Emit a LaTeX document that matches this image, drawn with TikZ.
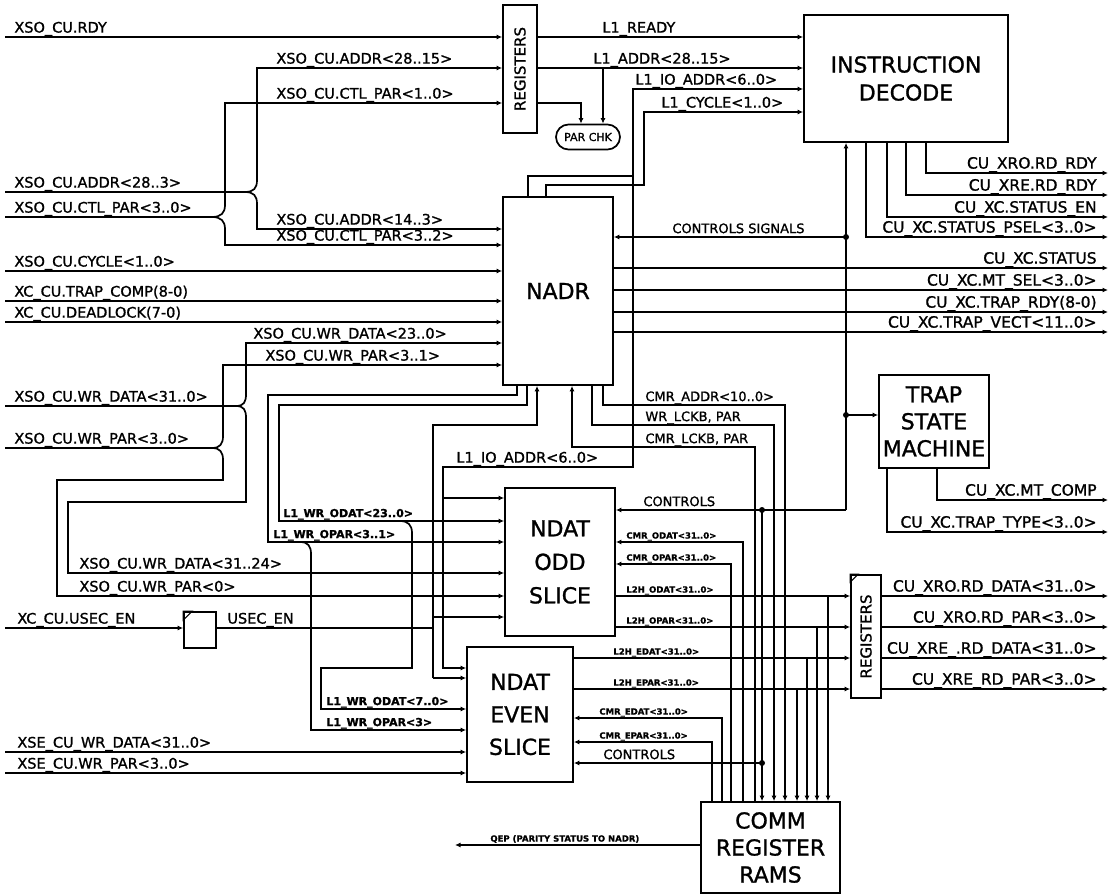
\documentclass[tikz,border=0pt]{standalone}
\usepackage{fontspec}
\setmainfont{DejaVu Sans}[FakeBold=1.2]
\usetikzlibrary{arrows.meta}

\begin{document}
\begin{tikzpicture}[
    x=1pt, y=-1pt,
    box/.style={draw, line width=1.7pt, inner sep=0pt},
    blocktext/.style={font=\fontsize{22}{#1}\selectfont, align=center},
    sig/.style={line width=1.7pt},
    arr/.style={sig, -{Latex[length=5.5pt,width=5pt]}},
    lbl/.style={anchor=south west, inner sep=1.2pt, text depth=3pt, font=\fontsize{14.5}{15}\selectfont},
    rlbl/.style={anchor=south east, inner sep=1.2pt, text depth=3pt, font=\fontsize{15.5}{16}\selectfont},
    mlbl/.style={anchor=south west, inner sep=1.2pt, text depth=2.5pt, font=\fontsize{13}{14}\selectfont},
    wlbl/.style={anchor=south west, inner sep=1.2pt, text depth=2.5pt, font=\fontsize{11}{12}\bfseries\selectfont},
    slbl/.style={anchor=south west, inner sep=1.2pt, text depth=2pt, font=\fontsize{8.5}{9}\bfseries\selectfont},
    jdot/.style={circle, fill, inner sep=0pt, minimum size=6pt},
]
    \fill[white] (0,0) rectangle (1120,896);

    % blocks
    \node[box, minimum width=34pt, minimum height=128pt,
          label={[rotate=90, font=\fontsize{15}{16}\selectfont]center:REGISTERS}] (regin) at (520,69) {};
    \node[box, minimum width=64pt, minimum height=25pt, rounded corners=12.5pt,
          font=\fontsize{11}{12}\selectfont] (parchk) at (588,137) {PAR CHK};
    \node[box, blocktext=28, minimum width=204pt, minimum height=127pt] (idec) at (906,78.5) {INSTRUCTION\\DECODE};
    \node[box, blocktext=28, minimum width=110pt, minimum height=188pt] (nadr) at (558,291) {NADR};
    \node[box, blocktext=27, minimum width=110pt, minimum height=93pt] (trap) at (934,421.5) {TRAP\\STATE\\MACHINE};
    \node[box, blocktext=33.5, minimum width=110pt, minimum height=148pt] (odd) at (560,562) {NDAT\\ODD\\SLICE};
    \node[box, blocktext=32.5, minimum width=106pt, minimum height=135pt] (even) at (520,714.5) {NDAT\\EVEN\\SLICE};
    \node[box, minimum width=30pt, minimum height=123pt,
          label={[rotate=90, font=\fontsize{15}{16}\selectfont]center:REGISTERS}] (regout) at (866,636.5) {};
    \node[box, blocktext=27, minimum width=139pt, minimum height=91pt] (comm) at (770.5,847.5) {COMM\\REGISTER\\RAMS};
    \node[box, minimum width=32pt, minimum height=36pt] (latch) at (200,630) {};
    \draw[line width=1pt] (latch.north west) -- ++(9,0) -- ++(-9,9) -- cycle;
    \draw[line width=1pt] (regout.north west) -- ++(8,0) -- ++(-8,8) -- cycle;

    % free ends on the left
    \coordinate (iRdy) at (5,37);
    \coordinate (iAddr) at (5,192);
    \coordinate (iCtl) at (5,217);
    \coordinate (iCyc) at (5,271);
    \coordinate (iTrap) at (5,301);
    \coordinate (iDead) at (5,322);
    \coordinate (iWrd) at (5,406);
    \coordinate (iWrp) at (5,448);
    \coordinate (iUsec) at (5,628);
    \coordinate (iXsed) at (5,752);
    \coordinate (iXsep) at (5,773);

    % inputs
    \draw[arr] (iRdy) -- (iRdy -| regin.west);
    \draw[arr] (iAddr) -- (245,192) .. controls (254,192) and (257,188) .. (257,180) -- (257,68) -- (257,68 -| regin.west);
    \draw[arr] (245,192) .. controls (254,192) and (257,196) .. (257,204) -- (257,229) -- (257,229 -| nadr.west);
    \draw[arr] (iCtl) -- (212,217) .. controls (221,217) and (225,213) .. (225,205) -- (225,103) -- (225,103 -| regin.west);
    \draw[arr] (212,217) .. controls (221,217) and (225,221) .. (225,229) -- (225,245) -- (225,245 -| nadr.west);
    \draw[arr] (iCyc) -- (iCyc -| nadr.west);
    \draw[arr] (iTrap) -- (iTrap -| nadr.west);
    \draw[arr] (iDead) -- (iDead -| nadr.west);
    \draw[arr] (iWrd) -- (236,406) .. controls (244,406) and (246,402) .. (246,394) -- (246,343) -- (246,343 -| nadr.west);
    \draw[arr] (236,406) .. controls (244,406) and (246,410) .. (246,418) -- (246,502) -- (68,502) -- (68,573) -- (68,573 -| odd.west);
    \draw[arr] (iWrp) -- (212,448) .. controls (220,448) and (223,444) .. (223,436) -- (223,365) -- (223,365 -| nadr.west);
    \draw[arr] (212,448) .. controls (220,448) and (223,452) .. (223,460) -- (223,480) -- (57,480) -- (57,596) -- (57,596 -| odd.west);
    \draw[arr] (iUsec) -- (iUsec -| latch.west);
    \draw[sig] (latch.east |- iUsec) -- (433,628);
    \draw[arr] (433,678) -- (433,425) -- (537,425) -- (537,425 |- nadr.south);
    \draw[arr] (433,617) -- (433,617 -| odd.west);
    \draw[arr] (433,678) -- (433,678 -| even.west);
    \draw[arr] (iXsed) -- (iXsed -| even.west);
    \draw[arr] (iXsep) -- (iXsep -| even.west);

    % top registers and decode
    \draw[arr] (regin.east |- iRdy) -- (iRdy -| idec.west);
    \draw[arr] (0,68 -| regin.east) -- (0,68 -| idec.west);
    \draw[arr] (603,68) -- (603,0 |- parchk.north);
    \draw[arr] (0,103 -| regin.east) -- (581,103) -- (581,0 |- parchk.north);
    \draw[arr] (528,0 |- nadr.north) -- (528,176) -- (633,176) -- (633,89) -- (0,89 -| idec.west);
    \draw[arr] (633,176) -- (633,467) -- (443,467) -- (443,668) -- (0,668 -| even.west);
    \draw[arr] (443,498) -- (0,498 -| odd.west);
    \draw[arr] (546,0 |- nadr.north) -- (546,185) -- (644,185) -- (644,112) -- (0,112 -| idec.west);

    % controls
    \draw[arr] (846,510) -- (846,0 |- idec.south);
    \draw[arr] (846,237) -- (0,237 -| nadr.east);
    \draw[arr] (846,415) -- (0,415 -| trap.west);
    \draw[arr] (846,510) -- (0,510 -| odd.east);
    \draw[arr] (762,510) -- (762,0 |- comm.north);
    \draw[arr] (762,763) -- (0,763 -| even.east);
    \node[jdot] (j1) at (846,237) {};
    \node[jdot] (j2) at (846,415) {};
    \node[jdot] (j3) at (762,510) {};
    \node[jdot] (j4) at (762,763) {};

    % outputs to the right
    \foreach \x/\y in {926/173, 906/195, 887/217, 866/237}
        \draw[arr] (\x,0 |- idec.south) -- (\x,\y) -- (1108,\y);
    \foreach \y in {268,290,312,332}
        \draw[arr] (0,\y -| nadr.east) -- (1108,\y);
    \draw[arr] (937,0 |- trap.south) -- (937,500) -- (1108,500);
    \draw[arr] (887,0 |- trap.south) -- (887,532) -- (1108,532);
    \foreach \y in {596,627,658,689}
        \draw[arr] (0,\y -| regout.east) -- (1108,\y);

    % NADR to the data slices and the rams
    \draw[arr] (517,0 |- nadr.south) -- (517,395) -- (268,395) -- (268,542) -- (0,542 -| odd.west);
    \draw[arr] (300,542) .. controls (308,542) and (311,546) .. (311,554) -- (311,730) -- (0,730 -| even.west);
    \draw[arr] (527,0 |- nadr.south) -- (527,405) -- (279,405) -- (279,521) -- (0,521 -| odd.west);
    \draw[arr] (400,521) .. controls (408,521) and (412,525) .. (412,533) -- (412,668) -- (321,668) -- (321,709) -- (0,709 -| even.west);
    \draw[arr] (755,0 |- comm.north) -- (755,447) -- (572,447) -- (572,0 |- nadr.south);
    \draw[arr] (592,0 |- nadr.south) -- (592,425) -- (774,425) -- (774,0 |- comm.north);
    \draw[arr] (603,0 |- nadr.south) -- (603,405) -- (785,405) -- (785,0 |- comm.north);

    % slices, rams and output registers
    \draw[arr] (743,0 |- comm.north) -- (743,542) -- (0,542 -| odd.east);
    \draw[arr] (731,0 |- comm.north) -- (731,564) -- (0,564 -| odd.east);
    \draw[arr] (0,596 -| odd.east) -- (0,596 -| regout.west);
    \draw[arr] (0,627 -| odd.east) -- (0,627 -| regout.west);
    \draw[arr] (0,658 -| even.east) -- (0,658 -| regout.west);
    \draw[arr] (0,689 -| even.east) -- (0,689 -| regout.west);
    \draw[arr] (722,0 |- comm.north) -- (722,718) -- (0,718 -| even.east);
    \draw[arr] (712,0 |- comm.north) -- (712,742) -- (0,742 -| even.east);
    \foreach \x/\y in {828/596, 817/627, 807/658, 797/689}
        \draw[arr] (\x,\y) -- (\x,0 |- comm.north);
    \draw[arr] (0,845 -| comm.west) -- (455,845);

    % labels
    \node[lbl] (tRdy) at (13,37) {XSO\_CU.RDY};
    \node[lbl] (tA1) at (275,68) {XSO\_CU.ADDR<28..15>};
    \node[lbl] (tC1) at (275,103) {XSO\_CU.CTL\_PAR<1..0>};
    \node[lbl] (tA) at (13,192) {XSO\_CU.ADDR<28..3>};
    \node[lbl] (tC) at (13,217) {XSO\_CU.CTL\_PAR<3..0>};
    \node[lbl] (tA2) at (275,229) {XSO\_CU.ADDR<14..3>};
    \node[lbl] (tC2) at (275,245) {XSO\_CU.CTL\_PAR<3..2>};
    \node[lbl] (tCyc) at (13,271) {XSO\_CU.CYCLE<1..0>};
    \node[lbl] (tTrap) at (13,301) {XC\_CU.TRAP\_COMP(8-0)};
    \node[lbl] (tDead) at (13,322) {XC\_CU.DEADLOCK(7-0)};
    \node[lbl] (tWd1) at (252,343) {XSO\_CU.WR\_DATA<23..0>};
    \node[lbl] (tWp1) at (264,365) {XSO\_CU.WR\_PAR<3..1>};
    \node[lbl] (tWd) at (13,406) {XSO\_CU.WR\_DATA<31..0>};
    \node[lbl] (tWp) at (13,448) {XSO\_CU.WR\_PAR<3..0>};
    \node[lbl] (tWd2) at (78,573) {XSO\_CU.WR\_DATA<31..24>};
    \node[lbl] (tWp2) at (78,596) {XSO\_CU.WR\_PAR<0>};
    \node[lbl] (tUsec) at (16,628) {XC\_CU.USEC\_EN};
    \node[lbl] (tUsec2) at (226,628) {USEC\_EN};
    \node[lbl] (tXd) at (16,752) {XSE\_CU\_WR\_DATA<31..0>};
    \node[lbl] (tXp) at (16,773) {XSE\_CU.WR\_PAR<3..0>};

    \node[lbl] (tL1r) at (601,37) {L1\_READY};
    \node[lbl] (tL1a) at (592,68) {L1\_ADDR<28..15>};
    \node[lbl] (tL1io) at (634,89) {L1\_IO\_ADDR<6..0>};
    \node[lbl] (tL1c) at (660,112) {L1\_CYCLE<1..0>};
    \node[lbl] (tL1io2) at (455,467) {L1\_IO\_ADDR<6..0>};
    \node[mlbl] (tCs) at (671,237) {CONTROLS SIGNALS};
    \node[mlbl] (tCa) at (644,405) {CMR\_ADDR<10..0>};
    \node[mlbl] (tWl) at (644,425) {WR\_LCKB, PAR};
    \node[mlbl] (tCl) at (644,447) {CMR\_LCKB, PAR};
    \node[mlbl] (tCo) at (642,510) {CONTROLS};
    \node[mlbl] (tCe) at (602,763) {CONTROLS};
    \node[wlbl] (tOd) at (282,521) {L1\_WR\_ODAT<23..0>};
    \node[wlbl] (tOp) at (272,542) {L1\_WR\_OPAR<3..1>};
    \node[wlbl] (tEd) at (325,709) {L1\_WR\_ODAT<7..0>};
    \node[wlbl] (tEp) at (325,730) {L1\_WR\_OPAR<3>};
    \node[slbl] (s1) at (625,542) {CMR\_ODAT<31..0>};
    \node[slbl] (s2) at (625,564) {CMR\_OPAR<31..0>};
    \node[slbl] (s3) at (625,596) {L2H\_ODAT<31..0>};
    \node[slbl] (s4) at (625,627) {L2H\_OPAR<31..0>};
    \node[slbl] (s5) at (612,658) {L2H\_EDAT<31..0>};
    \node[slbl] (s6) at (612,689) {L2H\_EPAR<31..0>};
    \node[slbl] (s7) at (598,718) {CMR\_EDAT<31..0>};
    \node[slbl] (s8) at (598,742) {CMR\_EPAR<31..0>};
    \node[slbl] (sQ) at (489,845) {QEP (PARITY STATUS TO NADR)};

    \node[rlbl] (r1) at (1098,173) {CU\_XRO.RD\_RDY};
    \node[rlbl] (r2) at (1098,195) {CU\_XRE.RD\_RDY};
    \node[rlbl] (r3) at (1098,217) {CU\_XC.STATUS\_EN};
    \node[rlbl] (r4) at (1098,237) {CU\_XC.STATUS\_PSEL<3..0>};
    \node[rlbl] (r5) at (1098,268) {CU\_XC.STATUS};
    \node[rlbl] (r6) at (1098,290) {CU\_XC.MT\_SEL<3..0>};
    \node[rlbl] (r7) at (1098,312) {CU\_XC.TRAP\_RDY(8-0)};
    \node[rlbl] (r8) at (1098,332) {CU\_XC.TRAP\_VECT<11..0>};
    \node[rlbl] (r9) at (1098,500) {CU\_XC.MT\_COMP};
    \node[rlbl] (r10) at (1098,532) {CU\_XC.TRAP\_TYPE<3..0>};
    \node[rlbl] (r11) at (1098,596) {CU\_XRO.RD\_DATA<31..0>};
    \node[rlbl] (r12) at (1098,627) {CU\_XRO.RD\_PAR<3..0>};
    \node[rlbl] (r13) at (1098,658) {CU\_XRE\_.RD\_DATA<31..0>};
    \node[rlbl] (r14) at (1098,689) {CU\_XRE\_RD\_PAR<3..0>};
\end{tikzpicture}
\end{document}
